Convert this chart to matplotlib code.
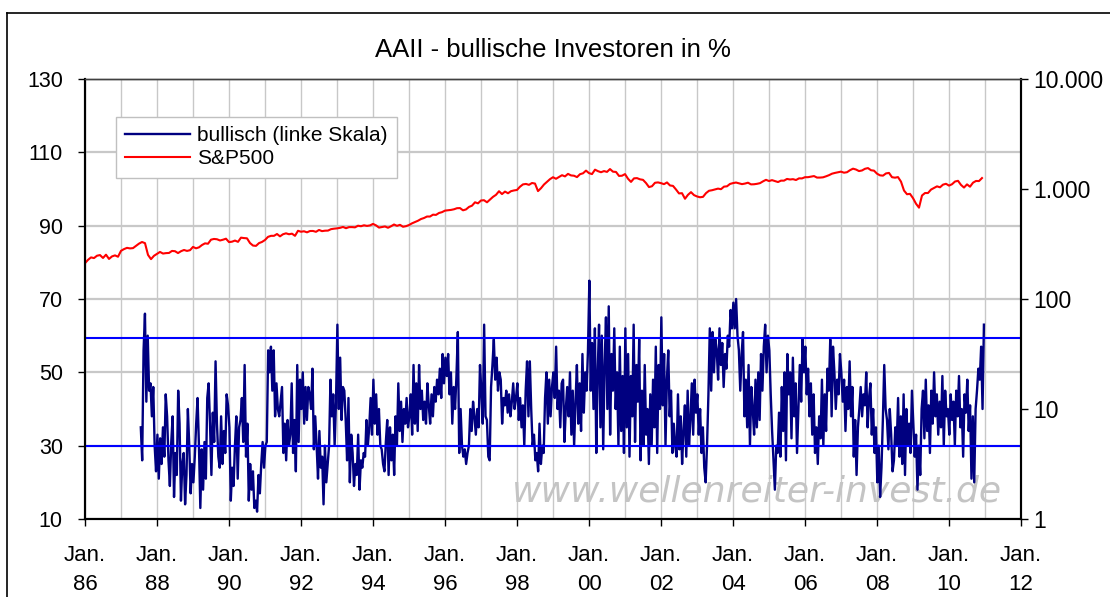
import numpy as np
import matplotlib
matplotlib.use('Agg')
import matplotlib.pyplot as plt
from matplotlib.lines import Line2D

plt.rcParams['font.family'] = ['Liberation Sans', 'DejaVu Sans']

# ------------------------------------------------------
#  Data
# ------------------------------------------------------

# AAII bullish %, roughly every two weeks, Jul 1987 - Dec 2010
bullish = [
    35, 26, 56, 66, 42, 60, 45, 47, 38, 46, 30, 23,                                              # 1987
    33, 21, 32, 25, 35, 27, 44, 38, 26, 19, 31, 38, 16, 28, 22, 45, 36, 15, 25, 28, 14, 22, 40, 30, 17, 25,  # 1988
    20, 27, 36, 43, 30, 13, 29, 18, 31, 21, 43, 47, 36, 22, 39, 31, 53, 36, 27, 24, 38, 25, 34, 28, 44, 41,  # 1989
    35, 15, 24, 19, 30, 38, 21, 35, 37, 43, 31, 52, 27, 36, 15, 25, 18, 23, 13, 15, 12, 22, 17, 25, 31, 24,  # 1990
    30, 31, 56, 50, 57, 45, 56, 38, 47, 40, 38, 42, 46, 28, 36, 26, 37, 30, 33, 47, 28, 37, 23, 52, 31, 48,  # 1991
    40, 50, 36, 46, 37, 46, 44, 40, 51, 29, 38, 30, 21, 34, 24, 27, 14, 30, 20, 25, 30, 48, 38, 44, 30, 42,  # 1992
    63, 40, 54, 37, 46, 45, 37, 26, 43, 20, 33, 28, 19, 25, 22, 33, 18, 26, 24, 28, 27, 37, 30, 35, 43, 33,  # 1993
    48, 36, 44, 33, 40, 30, 29, 25, 23, 31, 37, 22, 35, 26, 33, 22, 38, 30, 47, 34, 42, 31, 40, 36, 43, 35,  # 1994
    38, 44, 33, 52, 36, 47, 34, 52, 40, 45, 37, 42, 36, 47, 41, 36, 44, 38, 46, 42, 48, 44, 51, 43, 55, 47,  # 1995
    54, 49, 55, 44, 50, 36, 46, 40, 49, 61, 28, 40, 30, 27, 29, 25, 28, 30, 40, 34, 42, 38, 33, 40, 35, 52,  # 1996
    45, 36, 63, 38, 37, 27, 26, 46, 52, 59, 48, 54, 45, 50, 48, 36, 43, 41, 45, 39, 44, 38, 42, 47, 40, 43,  # 1997
    47, 37, 43, 35, 41, 30, 45, 53, 38, 53, 40, 30, 33, 26, 28, 23, 36, 25, 30, 28, 43, 50, 36, 48, 38, 46,  # 1998
    50, 43, 57, 40, 45, 35, 47, 48, 31, 40, 46, 38, 50, 33, 45, 30, 42, 52, 36, 47, 34, 55, 39, 50, 45, 56,  # 1999
    75, 45, 58, 40, 62, 28, 50, 63, 35, 60, 29, 52, 65, 40, 68, 33, 55, 45, 62, 40, 50, 30, 57, 34, 49, 28,  # 2000
    62, 35, 55, 27, 49, 38, 63, 31, 52, 42, 59, 26, 45, 30, 52, 33, 40, 25, 44, 30, 48, 35, 57, 28, 52, 40,  # 2001
    65, 41, 55, 30, 48, 56, 38, 45, 28, 36, 30, 27, 44, 29, 38, 25, 34, 41, 27, 45, 30, 37, 47, 33, 48, 39,  # 2002
    44, 33, 40, 28, 35, 24, 20, 30, 44, 62, 45, 61, 50, 59, 56, 48, 62, 52, 58, 46, 55, 51, 60, 57, 67, 62,  # 2003
    69, 62, 70, 60, 56, 45, 55, 61, 38, 48, 35, 52, 30, 46, 40, 33, 48, 35, 50, 37, 55, 45, 57, 63, 50, 60,  # 2004
    56, 44, 34, 26, 18, 30, 28, 39, 27, 46, 34, 50, 26, 55, 44, 50, 32, 54, 38, 47, 28, 40, 52, 42, 59, 50,  # 2005
    57, 44, 51, 38, 47, 33, 44, 28, 35, 25, 38, 32, 48, 30, 44, 34, 51, 45, 59, 38, 57, 50, 40, 48, 44, 55,  # 2006
    50, 42, 48, 34, 46, 40, 53, 38, 46, 27, 37, 22, 35, 40, 46, 38, 44, 41, 50, 35, 43, 47, 33, 40, 28, 35,  # 2007
    20, 30, 16, 24, 37, 52, 40, 37, 29, 40, 33, 23, 26, 35, 30, 43, 27, 38, 25, 44, 22, 40, 30, 36, 28, 45,  # 2008
    36, 27, 33, 18, 30, 22, 40, 45, 32, 48, 34, 41, 28, 45, 36, 50, 38, 44, 33, 42, 35, 49, 30, 45, 38, 40,  # 2009
    33, 44, 37, 42, 30, 45, 38, 49, 35, 40, 27, 44, 39, 48, 34, 41, 21, 38, 20, 40, 45, 51, 48, 57, 40, 63,  # 2010
]

# S&P 500, monthly, Jan 1986 - Dec 2010
sp500 = [
    211.8, 226.9, 238.9, 235.5, 247.4, 250.8, 236.1, 252.9, 231.3, 243.9, 249.2, 242.2,
    274.1, 284.2, 291.7, 288.4, 290.1, 304.0, 318.7, 329.8, 321.8, 251.8, 230.3, 247.1,
    257.1, 267.8, 258.9, 261.3, 262.2, 273.5, 272.0, 261.5, 271.9, 279.0, 273.7, 277.7,
    297.5, 288.9, 294.9, 309.6, 320.5, 318.0, 346.1, 351.5, 349.2, 340.4, 346.0, 353.4,
    329.1, 331.9, 339.9, 330.8, 361.2, 358.0, 356.2, 322.6, 306.1, 304.0, 322.2, 330.2,
    343.9, 367.1, 375.2, 375.3, 389.8, 371.2, 387.8, 395.4, 387.9, 392.5, 375.2, 417.1,
    408.8, 412.7, 403.7, 415.0, 415.4, 408.1, 424.2, 414.0, 417.8, 418.7, 431.4, 435.7,
    438.8, 443.4, 451.7, 440.2, 450.2, 450.5, 448.1, 463.6, 458.9, 467.8, 461.8, 466.5,
    481.6, 467.1, 445.8, 450.9, 456.5, 444.3, 458.3, 475.5, 462.7, 472.4, 453.7, 459.3,
    470.4, 487.4, 500.7, 514.7, 533.4, 544.8, 562.1, 561.9, 584.4, 581.5, 605.4, 615.9,
    636.0, 640.4, 645.5, 654.2, 669.1, 670.6, 640.0, 652.0, 687.3, 705.3, 757.0, 740.7,
    786.2, 790.8, 757.1, 801.3, 848.3, 885.1, 954.3, 899.5, 947.3, 914.6, 955.4, 970.4,
    980.3, 1049.3, 1101.8, 1111.8, 1090.8, 1133.8, 1120.7, 957.3, 1017.0, 1098.7, 1163.6, 1229.2,
    1279.6, 1238.3, 1286.4, 1335.2, 1301.8, 1372.7, 1328.7, 1320.4, 1282.7, 1362.9, 1388.9, 1469.3,
    1394.5, 1366.4, 1498.6, 1452.4, 1420.6, 1454.6, 1430.8, 1517.7, 1436.5, 1429.4, 1315.2, 1320.3,
    1366.0, 1239.9, 1160.3, 1249.5, 1255.8, 1224.4, 1211.2, 1133.6, 1040.9, 1059.8, 1139.5, 1148.1,
    1130.2, 1106.7, 1147.4, 1076.9, 1067.1, 989.8, 911.6, 916.1, 815.3, 885.8, 936.3, 879.8,
    855.7, 841.2, 848.2, 916.9, 963.6, 974.5, 990.3, 1008.0, 996.0, 1050.7, 1058.2, 1111.9,
    1131.1, 1144.9, 1126.2, 1107.3, 1120.7, 1140.8, 1101.7, 1104.2, 1114.6, 1130.2, 1173.8, 1211.9,
    1181.3, 1203.6, 1180.6, 1156.9, 1191.5, 1191.3, 1234.2, 1220.3, 1228.8, 1207.0, 1249.5, 1248.3,
    1280.1, 1280.7, 1294.8, 1310.6, 1270.1, 1270.2, 1276.7, 1303.8, 1335.8, 1377.9, 1400.6, 1418.3,
    1438.2, 1406.8, 1420.9, 1482.4, 1530.6, 1503.4, 1455.3, 1474.0, 1526.8, 1549.4, 1481.1, 1468.4,
    1378.6, 1330.6, 1322.7, 1385.6, 1400.4, 1280.0, 1267.4, 1282.8, 1166.4, 968.8, 896.2, 903.3,
    825.9, 735.1, 676.5, 872.8, 919.1, 919.3, 987.5, 1020.6, 1057.1, 1036.2, 1095.6, 1115.1,
    1073.9, 1104.5, 1169.4, 1186.7, 1089.4, 1030.7, 1101.6, 1049.3, 1141.2, 1183.3, 1180.6, 1257.6,
]

bands = [59.3, 30]
left_ticks = [10, 30, 50, 70, 90, 110, 130]
right_ticks = [1, 10, 100, 1000, 10000]
right_labels = ['1', '10', '100', '1.000', '10.000']
year_ticks = list(range(1986, 2013, 2))
year_labels = ['Jan.\n%02d' % (y % 100) for y in year_ticks]

# x positions in decimal years
x_bull = np.linspace(1987.55, 2010.97, len(bullish))
x_sp = 1986 + np.arange(len(sp500)) / 12.0

# ------------------------------------------------------
#  Plot
# ------------------------------------------------------
fig = plt.figure(figsize=(11.1, 5.97), dpi=100)
ax = fig.add_axes([85/1110, 1 - 519/597, (1021 - 85)/1110, (519 - 79)/597])
ax2 = ax.twinx()

# grid
ax.set_xticks(range(1986, 2013), minor=True)
ax.grid(True, axis='x', which='both', color='#c8c8c8', linewidth=1.0)
ax.grid(True, axis='y', which='major', color='#c8c8c8', linewidth=1.6)
ax.set_axisbelow(True)

ax.text(0.718, 0.062, 'www.wellenreiter-invest.de', transform=ax.transAxes,
        ha='center', va='center', fontsize=26, style='italic', color='#c4c4c4',
        family='DejaVu Sans', zorder=1)

l1, = ax.plot(x_bull, bullish, color='#000080', linewidth=1.7, zorder=2)
for b in bands:
    ax.axhline(b, color='#0000ff', linewidth=1.5, zorder=3)

l2, = ax2.plot(x_sp, sp500, color='#ff0000', linewidth=1.5)
ax2.set_yscale('log')

ax.set_xlim(1986, 2012)
ax.set_ylim(10, 130)
ax2.set_ylim(1, 10000)

ax.set_yticks(left_ticks)
ax.set_xticks(year_ticks)
ax.set_xticklabels(year_labels, linespacing=1.5)
ax2.set_yticks(right_ticks)
ax2.set_yticklabels(right_labels)
ax2.yaxis.set_minor_locator(matplotlib.ticker.NullLocator())

ax.tick_params(axis='y', which='major', direction='out', length=5, width=1,
               labelsize=15.5, colors='black', pad=11)
ax.tick_params(axis='x', which='major', direction='out', length=5, width=1,
               labelsize=16, pad=14)
ax.tick_params(axis='x', which='minor', length=0)
ax2.tick_params(axis='y', which='major', direction='out', length=5, width=1, labelsize=16.5)

for a in (ax, ax2):
    a.spines['left'].set_linewidth(1.5)
    a.spines['bottom'].set_linewidth(1.5)
    a.spines['right'].set_linewidth(1.5)
    a.spines['top'].set_color('#404040')
    a.spines['top'].set_linewidth(1.0)

ax.set_title('AAII - bullische Investoren in %', fontsize=18.5, pad=16)

leg = ax.legend([l1, l2], ['bullisch (linke Skala)', 'S&P500'], loc='upper left',
                bbox_to_anchor=(0.033, 0.914), fontsize=15, frameon=True, fancybox=False,
                framealpha=1, edgecolor='#c0c0c0', handlelength=3.1, borderpad=0.45,
                labelspacing=0.2, handletextpad=0.35, borderaxespad=0)
leg.set_zorder(10)
leg.remove()
ax2.add_artist(leg)

# chart border (Excel style)
fig.add_artist(Line2D([7/1110, 7/1110], [0, 1 - 13/597], color='black', linewidth=1.2))
fig.add_artist(Line2D([7/1110, 1], [1 - 13/597, 1 - 13/597], color='black', linewidth=1.2))

fig.savefig('out.png', dpi=100)
